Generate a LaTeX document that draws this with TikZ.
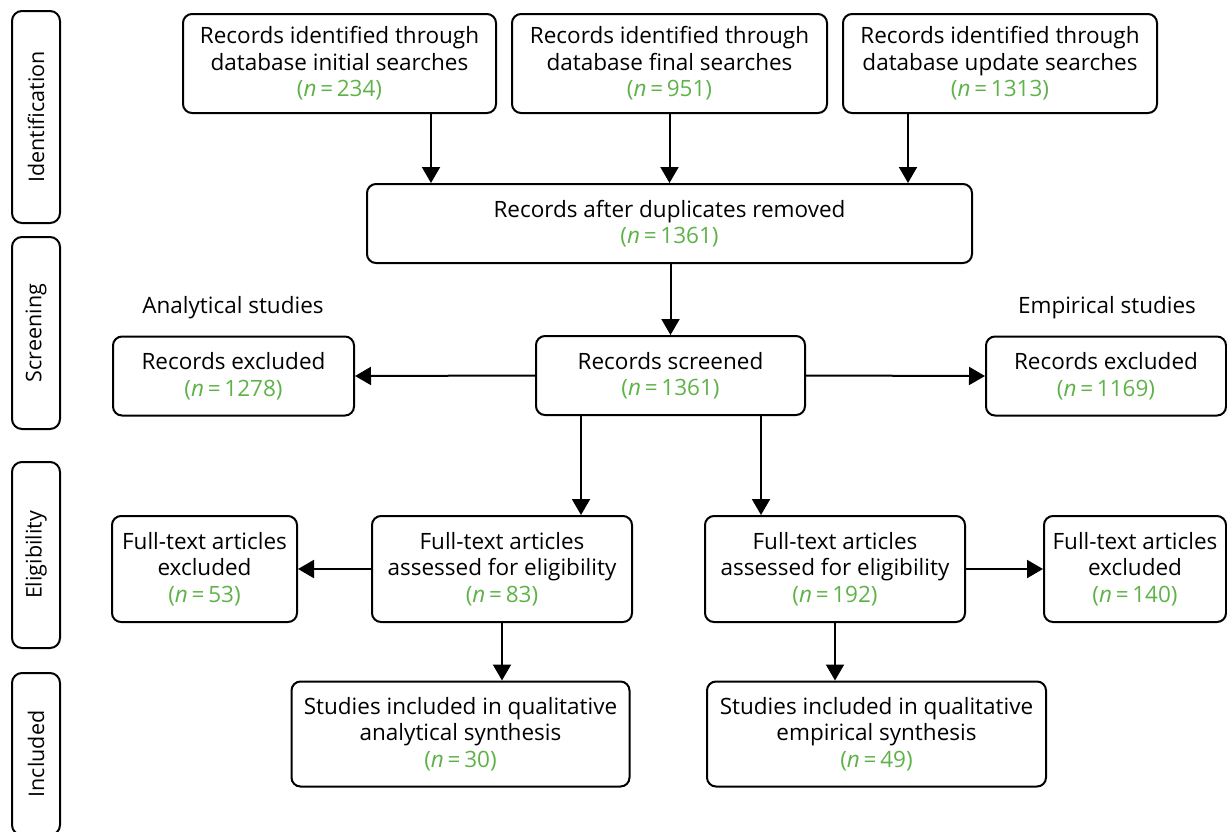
\documentclass[tikz,border=0pt]{standalone}
\usepackage{fontspec}
\setmainfont{Open Sans}
\usetikzlibrary{arrows.meta,calc}
\definecolor{ngreen}{RGB}{95,178,72}
\newcommand{\ncount}[1]{\textcolor{ngreen}{(\textit{n}\,=\,#1)}}
\begin{document}
\begin{tikzpicture}[x=1pt,y=-1pt,
  box/.style={draw, line width=2pt, rounded corners=9pt, align=center, inner sep=0pt,
    font=\fontsize{22.5}{26.5}\selectfont},
  side/.style={draw, line width=2pt, rounded corners=10pt, inner sep=0pt, minimum height=48pt,
    rotate=90, font=\fontsize{21.5}{24}\selectfont},
  lbl/.style={font=\fontsize{22.5}{26.5}\selectfont, inner sep=0pt},
  arr/.style={line width=2pt, -{Triangle[length=16pt,width=18pt]}}]
\useasboundingbox (0,0) rectangle (1227,831);
% side labels
\node[side, minimum width=212pt] (sid) at (36,117) {Identification};
\node[side, minimum width=192pt] (sscr) at (36,333) {Screening};
\node[side, minimum width=186pt] (selg) at (36,555) {Eligibility};
\node[side, minimum width=162pt] (sinc) at (36,754) {Included};
% identification
\node[box, minimum width=313pt, minimum height=99pt] (b1) at (339.5,63.5) {Records identified through\\database initial searches\\\ncount{234}};
\node[box, minimum width=315pt, minimum height=99pt] (b2) at (669.5,63.5) {Records identified through\\database final searches\\\ncount{951}};
\node[box, minimum width=314pt, minimum height=99pt] (b3) at (1000,63.5) {Records identified through\\database update searches\\\ncount{1313}};
\node[box, minimum width=605pt, minimum height=79pt] (dup) at (669.5,223.5) {Records after duplicates removed\\\ncount{1361}};
% screening
\node[lbl] (anl) at (233,308) {Analytical studies};
\node[lbl] (emp) at (1107,308) {Empirical studies};
\node[box, minimum width=269pt, minimum height=79pt] (scr) at (670.5,375.5) {Records screened\\\ncount{1361}};
\node[box, minimum width=241pt, minimum height=79pt] (exl) at (233.5,376) {Records excluded\\\ncount{1278}};
\node[box, minimum width=240pt, minimum height=79pt] (exr) at (1106,376) {Records excluded\\\ncount{1169}};
% eligibility
\node[box, minimum width=185pt, minimum height=106pt] (ftl) at (204.5,569) {Full-text articles\\excluded\\\ncount{53}};
\node[box, minimum width=260pt, minimum height=106pt] (fal) at (502,569) {Full-text articles\\assessed for eligibility\\\ncount{83}};
\node[box, minimum width=260pt, minimum height=106pt] (far) at (835,569) {Full-text articles\\assessed for eligibility\\\ncount{192}};
\node[box, minimum width=182pt, minimum height=106pt] (ftr) at (1135,569) {Full-text articles\\excluded\\\ncount{140}};
% included
\node[box, minimum width=338pt, minimum height=105pt] (inl) at (460.5,734) {Studies included in qualitative\\analytical synthesis\\\ncount{30}};
\node[box, minimum width=339pt, minimum height=105pt] (inr) at (876.5,734) {Studies included in qualitative\\empirical synthesis\\\ncount{49}};
% connectors
\path (b1.south) ++(91.5,0) coordinate (a1);
\path (b3.south) ++(-92,0) coordinate (a3);
\draw[arr] (a1) -- (a1 |- dup.north);
\draw[arr] (b2.south) -- (b2.south |- dup.north);
\draw[arr] (a3) -- (a3 |- dup.north);
\draw[arr] (dup.south -| scr.north) -- (scr.north);
\draw[arr] (scr.west) -- (exl.east);
\draw[arr] (scr.east) -- (exr.west);
\path (scr.south) ++(-89.5,0) coordinate (s1);
\path (scr.south) ++(90.5,0) coordinate (s2);
\draw[arr] (s1) -- (s1 |- fal.north);
\draw[arr] (s2) -- (s2 |- far.north);
\draw[arr] (fal.west) -- (ftl.east);
\draw[arr] (far.east) -- (ftr.west);
\draw[arr] (fal.south) -- (fal.south |- inl.north);
\draw[arr] (far.south) -- (far.south |- inr.north);
\end{tikzpicture}
\end{document}
